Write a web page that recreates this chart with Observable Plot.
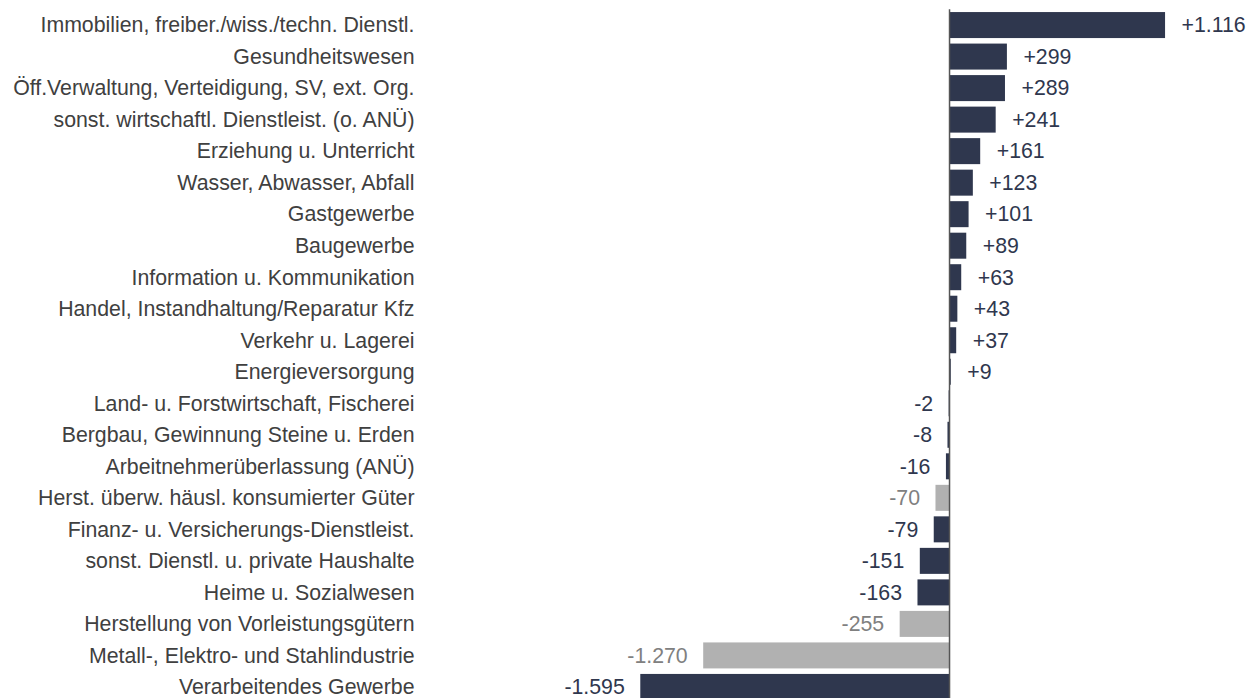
<!DOCTYPE html>
<html>
<head>
<meta charset="utf-8">
<script src="https://cdn.jsdelivr.net/npm/d3@7"></script>
<script src="https://cdn.jsdelivr.net/npm/@observablehq/plot@0.6"></script>
<style>
  html, body { margin: 0; padding: 0; background: #fff; overflow: hidden; }
  #chart svg { overflow: hidden; }
</style>
</head>
<body>
<div id="chart"></div>
<script>
const categories = [
  "Immobilien, freiber./wiss./techn. Dienstl.",
  "Gesundheitswesen",
  "Öff.Verwaltung, Verteidigung, SV, ext. Org.",
  "sonst. wirtschaftl. Dienstleist. (o. ANÜ)",
  "Erziehung u. Unterricht",
  "Wasser, Abwasser, Abfall",
  "Gastgewerbe",
  "Baugewerbe",
  "Information u. Kommunikation",
  "Handel, Instandhaltung/Reparatur Kfz",
  "Verkehr u. Lagerei",
  "Energieversorgung",
  "Land- u. Forstwirtschaft, Fischerei",
  "Bergbau, Gewinnung Steine u. Erden",
  "Arbeitnehmerüberlassung (ANÜ)",
  "Herst. überw. häusl. konsumierter Güter",
  "Finanz- u. Versicherungs-Dienstleist.",
  "sonst. Dienstl. u. private Haushalte",
  "Heime u. Sozialwesen",
  "Herstellung von Vorleistungsgütern",
  "Metall-, Elektro- und Stahlindustrie",
  "Verarbeitendes Gewerbe"
];
const values = [1116, 299, 289, 241, 161, 123, 101, 89, 63, 43, 37, 9, -2, -8, -16, -70, -79, -151, -163, -255, -1270, -1595];
const subSector = [false, false, false, false, false, false, false, false, false, false, false, false, false, false, false, true, false, false, false, true, true, false];

const data = categories.map((c, i) => ({category: c, value: values[i], sub: subSector[i]}));

const de = d3.formatLocale({decimal: ",", thousands: ".", grouping: [3], currency: ["", " €"]});
const fmt = de.format("+,d");
const fmtLabel = v => fmt(v).replace("−", "-");

const navy = "#2f374e";
const grey = "#b1b1b1";

const chart = Plot.plot({
  width: 1257,
  height: 698,
  marginLeft: 420,
  marginRight: 0,
  marginTop: 9.3,
  marginBottom: -4.7,
  style: {fontFamily: "'Liberation Sans', Arial, sans-serif", fontSize: "21.3px", background: "#fff"},
  x: {domain: [-2733, 1591], axis: null},
  y: {domain: categories, paddingInner: 0.175, paddingOuter: 0.0875, round: false, axis: null},
  marks: [
    Plot.barX(data, {x: "value", y: "category", fill: d => d.sub ? grey : navy}),
    Plot.ruleX([0], {stroke: "#555", strokeWidth: 1.5}),
    Plot.axisY({tickSize: 0, tickPadding: 6, color: "#404040", fontSize: 21.3, label: null}),
    Plot.text(data.filter(d => d.value >= 0), {x: "value", y: "category", text: d => fmtLabel(d.value), textAnchor: "start", dx: 16, fill: navy, fontSize: 21.3}),
    Plot.text(data.filter(d => d.value < 0), {x: "value", y: "category", text: d => fmtLabel(d.value), textAnchor: "end", dx: -16, fill: d => d.sub ? "#808080" : navy, fontSize: 21.3})
  ]
});
document.getElementById("chart").append(chart);
</script>
</body>
</html>
